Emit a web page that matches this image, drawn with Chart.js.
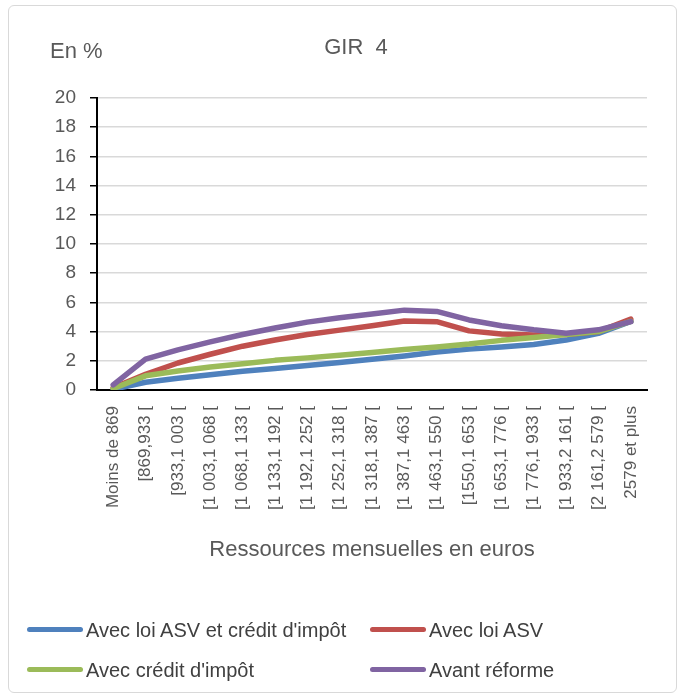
<!DOCTYPE html>
<html>
<head>
<meta charset="utf-8">
<script src="https://cdn.jsdelivr.net/npm/chart.js@4/dist/chart.umd.min.js"></script>
<style>
  body { margin: 0; background: #fff; font-family: "Liberation Sans", Arial, sans-serif; }
  #wrap { position: relative; width: 685px; height: 699px; overflow: hidden; }
  #frame { position: absolute; left: 8px; top: 5px; width: 667px; height: 686px;
           border: 1px solid #d9d9d9; border-radius: 6px; }
  #chart { position: absolute; left: 0; top: 0; }
  .txt { position: absolute; color: #595959; white-space: nowrap; }
  #title { left: 0; width: 712px; text-align: center; top: 34px; font-size: 22px; }
  #unit { left: 50px; top: 38px; font-size: 22px; }
  .leg { position: absolute; color: #404040; font-size: 20px; white-space: nowrap; }
  .leg span.sw { display: inline-block; width: 56px; height: 5px; border-radius: 3px;
                 vertical-align: middle; margin-right: 3px; position: relative; top: -2px; }
</style>
</head>
<body>
<div id="wrap">
  <div id="frame"></div>
  <canvas id="chart" width="685" height="699"></canvas>
  <div class="txt" id="title">GIR&nbsp; 4</div>
  <div class="txt" id="unit">En %</div>
  <div class="leg" style="left:27px; top:619px;"><span class="sw" style="background:#4f81bd"></span>Avec loi ASV et crédit d'impôt</div>
  <div class="leg" style="left:370px; top:619px;"><span class="sw" style="background:#c0504d"></span>Avec loi ASV</div>
  <div class="leg" style="left:27px; top:659px;"><span class="sw" style="background:#9bbb59"></span>Avec crédit d'impôt</div>
  <div class="leg" style="left:370px; top:659px;"><span class="sw" style="background:#8064a2"></span>Avant réforme</div>
</div>
<script>
const xLabels = [
  "Moins de 869", "[869,933 [", "[933,1 003 [", "[1 003,1 068 [", "[1 068,1 133 [",
  "[1 133,1 192 [", "[1 192,1 252 [", "[1 252,1 318 [", "[1 318,1 387 [", "[1 387,1 463 [",
  "[1 463,1 550 [", "[1550,1 653 [", "[1 653,1 776 [", "[1 776,1 933 [", "[1 933,2 161 [",
  "[2 161,2 579 [", "2579 et plus"
];

const avecAsvEtCredit = [0.05, 0.53, 0.8, 1.05, 1.28, 1.48, 1.68, 1.88, 2.1, 2.33, 2.6, 2.8, 2.94, 3.12, 3.42, 3.88, 4.7];
const avecAsv         = [0.15, 1.08, 1.85, 2.45, 3.0, 3.42, 3.8, 4.1, 4.4, 4.72, 4.68, 4.05, 3.83, 3.77, 3.8, 4.0, 4.85];
const avecCredit      = [0.1, 0.97, 1.3, 1.58, 1.8, 2.03, 2.2, 2.38, 2.57, 2.77, 2.95, 3.15, 3.4, 3.6, 3.8, 4.0, 4.7];
const avantReforme    = [0.35, 2.11, 2.75, 3.3, 3.8, 4.25, 4.65, 4.95, 5.2, 5.47, 5.38, 4.8, 4.4, 4.12, 3.89, 4.12, 4.68];

const seriesNames  = ["Avec loi ASV et crédit d'impôt", "Avec loi ASV", "Avec crédit d'impôt", "Avant réforme"];
const seriesColors = ["#4f81bd", "#c0504d", "#9bbb59", "#8064a2"];
const seriesValues = [avecAsvEtCredit, avecAsv, avecCredit, avantReforme];

const yMin = 0, yMax = 20, yStep = 2;

const ctx = document.getElementById("chart").getContext("2d");

new Chart(ctx, {
  type: "line",
  data: {
    labels: xLabels,
    datasets: seriesValues.map((vals, i) => ({
      label: seriesNames[i],
      data: vals,
      borderColor: seriesColors[i],
      backgroundColor: seriesColors[i],
      borderWidth: 5.5,
      pointRadius: 0,
      tension: 0,
      borderCapStyle: "round",
      borderJoinStyle: "round",
      order: seriesValues.length - i   // later series drawn on top
    }))
  },
  options: {
    responsive: false,
    animation: false,
    layout: { padding: { left: 0, right: 38, top: 98, bottom: 135 } },
    plugins: {
      legend: { display: false },
      tooltip: { enabled: false }
    },
    scales: {
      x: {
        offset: true,
        grid: { display: false },
        border: { color: "#000", width: 2 },
        ticks: {
          autoSkip: false,
          maxRotation: 90,
          minRotation: 90,
          padding: 8,
          color: "#595959",
          font: { family: "Liberation Sans", size: 17 }
        },
        title: {
          display: true,
          text: "Ressources mensuelles en euros",
          color: "#595959",
          font: { family: "Liberation Sans", size: 22 },
          padding: { top: 0, bottom: 1 }
        },
        afterFit: (scale) => { scale.height = 174; }
      },
      y: {
        min: yMin,
        max: yMax,
        grid: {
          color: "#d9d9d9",
          lineWidth: 1.5,
          tickColor: "#000",
          tickLength: 7,
          tickWidth: 1.5
        },
        border: { color: "#000", width: 2 },
        ticks: {
          stepSize: yStep,
          padding: 14,
          color: "#595959",
          font: { family: "Liberation Sans", size: 19 }
        },
        afterFit: (scale) => { scale.width = 97; }
      }
    }
  }
});
</script>
</body>
</html>
